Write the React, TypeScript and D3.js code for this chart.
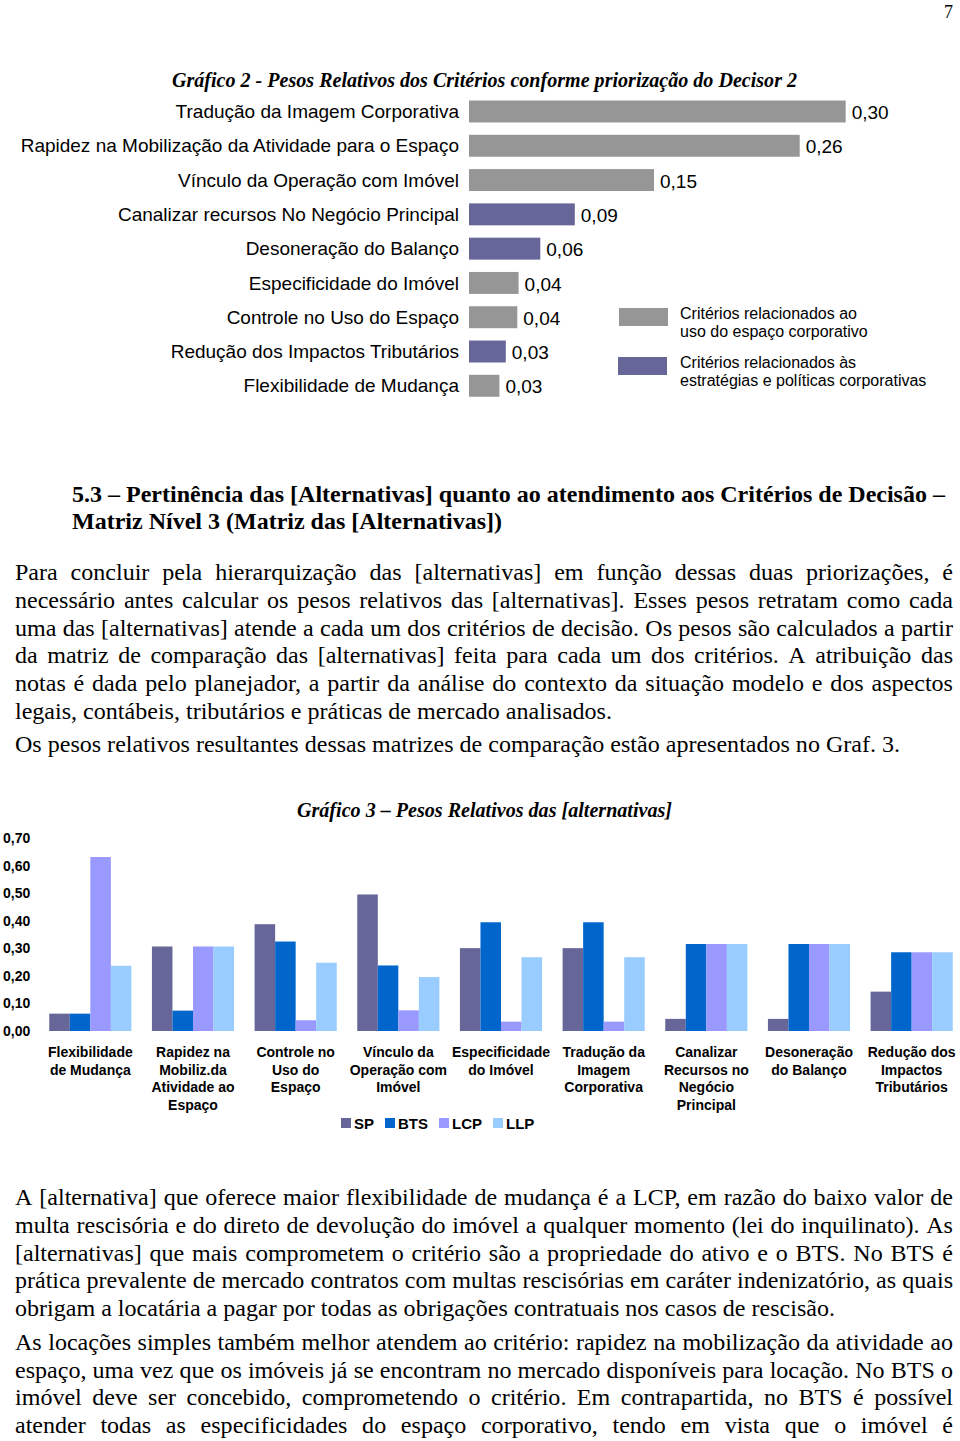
import React from 'react';
import * as d3 from 'd3';

// ---------- Chart 2 data ----------
const criteria = [
  'Tradução da Imagem Corporativa',
  'Rapidez na Mobilização da Atividade para o Espaço',
  'Vínculo da Operação com Imóvel',
  'Canalizar recursos No Negócio Principal',
  'Desoneração do Balanço',
  'Especificidade do Imóvel',
  'Controle no Uso do Espaço',
  'Redução dos Impactos Tributários',
  'Flexibilidade de Mudança',
];
const criteriaWeights = [0.3, 0.264, 0.15, 0.088, 0.061, 0.044, 0.043, 0.034, 0.029];
const criteriaGroup = ['uso', 'uso', 'uso', 'estr', 'estr', 'uso', 'uso', 'estr', 'uso'];
const groupKeys = ['uso', 'estr'];
const groupLabels = [
  ['Critérios relacionados ao', 'uso do espaço corporativo'],
  ['Critérios relacionados às', 'estratégias e políticas corporativas'],
];
const groupColors = ['#969696', '#666699'];

// ---------- Chart 3 data ----------
const altCategories = [
  ['Flexibilidade', 'de Mudança'],
  ['Rapidez na', 'Mobiliz.da', 'Atividade ao', 'Espaço'],
  ['Controle no', 'Uso do', 'Espaço'],
  ['Vínculo da', 'Operação com', 'Imóvel'],
  ['Especificidade', 'do Imóvel'],
  ['Tradução da', 'Imagem', 'Corporativa'],
  ['Canalizar', 'Recursos no', 'Negócio', 'Principal'],
  ['Desoneração', 'do Balanço'],
  ['Redução dos', 'Impactos', 'Tributários'],
];
const alternatives = ['SP', 'BTS', 'LCP', 'LLP'];
const altColors = ['#666699', '#0066CC', '#9999FF', '#99CCFF'];
const spValues = [0.063, 0.307, 0.388, 0.496, 0.301, 0.301, 0.044, 0.044, 0.143];
const btsValues = [0.063, 0.074, 0.325, 0.238, 0.395, 0.395, 0.316, 0.316, 0.286];
const lcpValues = [0.632, 0.307, 0.039, 0.075, 0.034, 0.034, 0.316, 0.316, 0.286];
const llpValues = [0.237, 0.307, 0.248, 0.196, 0.268, 0.268, 0.316, 0.316, 0.286];
const altSeries = [spValues, btsValues, lcpValues, llpValues];
const yTicks = [0, 0.1, 0.2, 0.3, 0.4, 0.5, 0.6, 0.7];

// ---------- Page text ----------
const headingLines = [
  { t: '5.3 – Pertinência das [Alternativas] quanto ao atendimento aos Critérios de Decisão –', y: 502, end: 945 },
  { t: 'Matriz Nível 3 (Matriz das [Alternativas])', y: 529, end: 502 },
];
const bodyLines = [
  { t: 'Para concluir pela hierarquização das [alternativas] em função dessas duas priorizações, é', y: 580, j: true },
  { t: 'necessário antes calcular os pesos relativos das [alternativas]. Esses pesos retratam como cada', y: 608, j: true },
  { t: 'uma das [alternativas] atende a cada um dos critérios de decisão. Os pesos são calculados a partir', y: 636, j: true },
  { t: 'da matriz de comparação das [alternativas] feita para cada um dos critérios. A atribuição das', y: 663, j: true },
  { t: 'notas é dada pelo planejador, a partir da análise do contexto da situação modelo e dos aspectos', y: 691, j: true },
  { t: 'legais, contábeis, tributários e práticas de mercado analisados.', y: 719, j: false, end: 612 },
  { t: 'Os pesos relativos resultantes dessas matrizes de comparação estão apresentados no Graf. 3.', y: 752, j: false, end: 900 },
  { t: 'A [alternativa] que oferece maior flexibilidade de mudança é a LCP, em razão do baixo valor de', y: 1205, j: true },
  { t: 'multa rescisória e do direto de devolução do imóvel a qualquer momento (lei do inquilinato). As', y: 1233, j: true },
  { t: '[alternativas] que mais comprometem o critério são a propriedade do ativo e o BTS. No BTS é', y: 1261, j: true },
  { t: 'prática prevalente de mercado contratos com multas rescisórias em caráter indenizatório, as quais', y: 1288, j: true },
  { t: 'obrigam a locatária a pagar por todas as obrigações contratuais nos casos de rescisão.', y: 1316, j: false, end: 835 },
  { t: 'As locações simples também melhor atendem ao critério: rapidez na mobilização da atividade ao', y: 1350, j: true },
  { t: 'espaço, uma vez que os imóveis já se encontram no mercado disponíveis para locação. No BTS o', y: 1378, j: true },
  { t: 'imóvel deve ser concebido, comprometendo o critério. Em contrapartida, no BTS é possível', y: 1405, j: true },
  { t: 'atender todas as especificidades do espaço corporativo, tendo em vista que o imóvel é', y: 1433, j: true },
];

const SERIF = "'Liberation Serif', 'Times New Roman', serif";
const SANS = "'Liberation Sans', Arial, sans-serif";

let _ctx: CanvasRenderingContext2D | null = null;
function tw(s: string, font: string): number {
  if (!_ctx) _ctx = document.createElement('canvas').getContext('2d');
  _ctx!.font = font;
  return _ctx!.measureText(s).width;
}

function LineWords({ text, x, y, end, justify, sx, font, fs, weight }: any) {
  const words = text.split(' ');
  const natural = tw(text, font);
  const s = justify ? sx : (end - x) / natural;
  const ws = words.map((w: string) => tw(w, font) * s);
  const space = tw(' ', font) * s;
  const gap = justify && words.length > 1 ? (end - x - d3.sum(ws)) / (words.length - 1) : space;
  let cx = x;
  return (
    <g fontFamily={SERIF} fontSize={fs} fontWeight={weight} fill="#000">
      {words.map((w: string, i: number) => {
        const el = (
          <text key={i} x={cx} y={y} textLength={ws[i]} lengthAdjust="spacingAndGlyphs">
            {w}
          </text>
        );
        cx += ws[i] + gap;
        return el;
      })}
    </g>
  );
}

function Chart2() {
  const y = d3.scaleBand<string>().domain(criteria).range([94.35, 402.95]).paddingInner(0.36).paddingOuter(0.18);
  const x = d3.scaleLinear().domain([0.0052, 0.3]).range([469, 845.7]);
  const color = d3.scaleOrdinal<string, string>().domain(groupKeys).range(groupColors);
  const fmt = (v: number) => v.toFixed(2).replace('.', ',');
  return (
    <g>
      <text x={172} y={87} fontFamily={SERIF} fontSize={20} fontWeight="bold" fontStyle="italic"
        textLength={625} lengthAdjust="spacingAndGlyphs">
        Gráfico 2 - Pesos Relativos dos Critérios conforme priorização do Decisor 2
      </text>
      {criteria.map((c, i) => {
        const yc = (y(c) as number) + y.bandwidth() / 2;
        return (
          <g key={c}>
            <text x={459} y={yc} dy="0.35em" textAnchor="end" fontFamily={SANS} fontSize={19} fill="#000">
              {c}
            </text>
            <rect x={x.range()[0]} y={y(c)} width={x(criteriaWeights[i]) - x.range()[0]} height={y.bandwidth()}
              fill={color(criteriaGroup[i])} />
            <text x={x(criteriaWeights[i]) + 6} y={yc + 1} dy="0.35em" fontFamily={SANS} fontSize={19} fill="#000">
              {fmt(criteriaWeights[i])}
            </text>
          </g>
        );
      })}
      {groupKeys.map((k, i) => {
        const top = i === 0 ? 308 : 357;
        return (
          <g key={k}>
            <rect x={619 - i} y={top} width={49} height={18} fill={color(k)} />
            {groupLabels[i].map((l, j) => (
              <text key={j} x={680} y={top + 5 + j * 18} dy="0.35em" fontFamily={SANS} fontSize={16} fill="#000">
                {l}
              </text>
            ))}
          </g>
        );
      })}
    </g>
  );
}

function Chart3() {
  const keys = altCategories.map((_, i) => String(i));
  const x0 = d3.scaleBand<string>().domain(keys).range([39, 963]).paddingInner(0.2).paddingOuter(0.1);
  const x1 = d3.scaleBand<string>().domain(alternatives).range([0, x0.bandwidth()]);
  const y = d3.scaleLinear().domain([0, 0.7]).range([1031, 838.3]);
  const color = d3.scaleOrdinal<string, string>().domain(alternatives).range(altColors);
  const fmt = (v: number) => v.toFixed(2).replace('.', ',');
  const legFont = `bold 15px ${SANS}`;
  let lx = 341;
  const legendItems = alternatives.map((a) => {
    const item = { a, sq: lx, tx: lx + 13 };
    lx = lx + 13 + tw(a, legFont) + 11;
    return item;
  });
  return (
    <g>
      <text x={297} y={817} fontFamily={SERIF} fontSize={20} fontWeight="bold" fontStyle="italic"
        textLength={375} lengthAdjust="spacingAndGlyphs">
        Gráfico 3 – Pesos Relativos das [alternativas]
      </text>
      {yTicks.map((t) => (
        <text key={t} x={3} y={y(t)} dy="0.35em" fontFamily={SANS} fontSize={14} fontWeight="bold" fill="#000">
          {fmt(t)}
        </text>
      ))}
      {keys.map((k, i) => (
        <g key={k} transform={`translate(${x0(k)},0)`}>
          {alternatives.map((a, s) => (
            <rect key={a} x={x1(a)} y={y(altSeries[s][i])} width={x1.bandwidth()}
              height={y(0) - y(altSeries[s][i])} fill={color(a)} />
          ))}
          {altCategories[i].map((l, j) => (
            <text key={j} x={x0.bandwidth() / 2} y={1057 + j * 17.5} textAnchor="middle" fontFamily={SANS}
              fontSize={14} fontWeight="bold" fill="#000">
              {l}
            </text>
          ))}
        </g>
      ))}
      {legendItems.map((it) => (
        <g key={it.a}>
          <rect x={it.sq} y={1118} width={10} height={10} fill={color(it.a)} />
          <text x={it.tx} y={1128.5} fontFamily={SANS} fontSize={15} fontWeight="bold" fill="#000">
            {it.a}
          </text>
        </g>
      ))}
    </g>
  );
}

export default function App() {
  const bodyFont = `23.5px ${SERIF}`;
  const headFont = `bold 23px ${SERIF}`;
  const ratios = bodyLines.filter((l) => !l.j).map((l) => ((l.end as number) - 15) / tw(l.t, bodyFont));
  const sx = d3.mean(ratios) as number;
  return (
    <svg width={960} height={1441} style={{ position: 'absolute', left: 0, top: 0, background: '#fff' }}>
      <rect width={960} height={1441} fill="#fff" />
      <text x={944} y={18} fontFamily={SERIF} fontSize={18} fill="#000">7</text>
      <Chart2 />
      {headingLines.map((l, i) => (
        <LineWords key={i} text={l.t} x={72} y={l.y} end={l.end} justify={false} sx={1} font={headFont} fs={23} weight="bold" />
      ))}
      {bodyLines.map((l, i) => (
        <LineWords key={i} text={l.t} x={15} y={l.y} end={l.j ? 953 : l.end} justify={l.j} sx={sx} font={bodyFont} fs={23.5} weight="normal" />
      ))}
      <Chart3 />
    </svg>
  );
}
